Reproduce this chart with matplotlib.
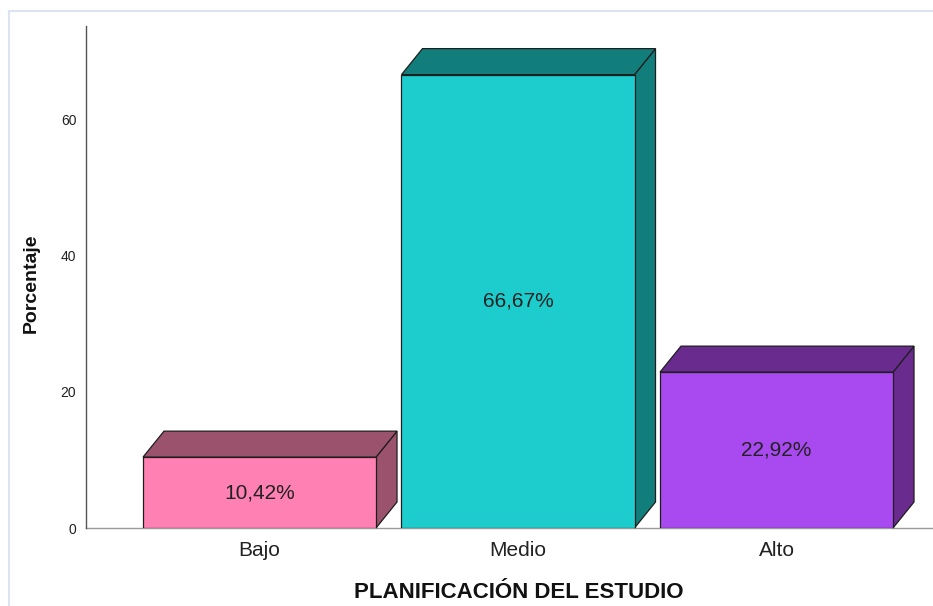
import matplotlib
matplotlib.use("Agg")
import matplotlib.pyplot as plt
from matplotlib.patches import Polygon, Rectangle

categories = ["Bajo", "Medio", "Alto"]
values = [10.42, 66.67, 22.92]
value_labels = ["10,42%", "66,67%", "22,92%"]
front_colors = ["#FF80B2", "#1DCDCD", "#A84AF0"]
shade_colors = ["#9B526C", "#127E7B", "#6A2B8E"]
yticks = [0, 20, 40, 60]

plt.rcParams['font.family'] = ['Liberation Sans', 'DejaVu Sans']

W, H = 933, 606
fig = plt.figure(figsize=(W / 100, H / 100), dpi=100)
fig.patch.set_facecolor("white")

# outer frame of the chart
fig.patches.append(Rectangle((9 / W, -0.1), 1.2, (H - 11) / H + 0.1,
                             transform=fig.transFigure, fill=False,
                             edgecolor="#DCE4F2", linewidth=1.5))

ax_left, ax_right, ax_top, ax_bottom = 86, 933, 26, 528
ax = fig.add_axes([ax_left / W, (H - ax_bottom) / H,
                   (ax_right - ax_left) / W, (ax_bottom - ax_top) / H])
ax.set_facecolor("none")

x = list(range(len(categories)))
ax.set_xlim(-0.6712, 2.6054)
ax.set_ylim(0, 73.82)

bar_w = 0.9014
depth_px = (21, 26)
# convert pixel depth to data units
p0 = ax.transData.transform((0, 0))
inv = ax.transData.inverted()
d = inv.transform((p0[0] + depth_px[0], p0[1] + depth_px[1]))
ddx, ddy = d[0], d[1]

edge = "#1E1E1E"
lw = 0.9
for xi, v, fc, sc, lab in zip(x, values, front_colors, shade_colors, value_labels):
    x0, x1 = xi - bar_w / 2, xi + bar_w / 2
    side = Polygon([(x1, 0), (x1, v), (x1 + ddx, v + ddy), (x1 + ddx, ddy)],
                   closed=True, facecolor=sc, edgecolor=edge, linewidth=lw,
                   clip_on=False, zorder=2)
    top = Polygon([(x0, v), (x1, v), (x1 + ddx, v + ddy), (x0 + ddx, v + ddy)],
                  closed=True, facecolor=sc, edgecolor=edge, linewidth=lw,
                  clip_on=False, zorder=2)
    ax.add_patch(side)
    ax.add_patch(top)
    ax.bar(xi, v, width=bar_w, color=fc, edgecolor=edge, linewidth=lw, zorder=3)
    ax.text(xi, v / 2, lab, ha="center", va="center", fontsize=15,
            color="#222222", zorder=4)

for s in ["top", "right"]:
    ax.spines[s].set_visible(False)
ax.spines["left"].set_color("#555555")
ax.spines["left"].set_linewidth(1.0)
ax.spines["bottom"].set_color("#9A9A9A")
ax.spines["bottom"].set_linewidth(1.0)
ax.spines["bottom"].set_zorder(1)

ax.set_xticks(x)
ax.set_xticklabels(categories, fontsize=15, color="#222222")
ax.set_yticks(yticks)
ax.set_yticklabels([str(t) for t in yticks], fontsize=10, color="#222222")
ax.tick_params(axis="x", length=0, pad=9)
ax.tick_params(axis="y", length=0, pad=7)

fig.text(31 / W, 1 - 283 / H, "Porcentaje", rotation=90, ha="center",
         va="center", fontsize=14, fontweight="bold", color="#111111")
fig.text(519 / W, 1 - 593 / H, "PLANIFICACIÓN DEL ESTUDIO", ha="center",
         va="center", fontsize=16, fontweight="bold", color="#111111")

fig.savefig("out.png", dpi=100)
